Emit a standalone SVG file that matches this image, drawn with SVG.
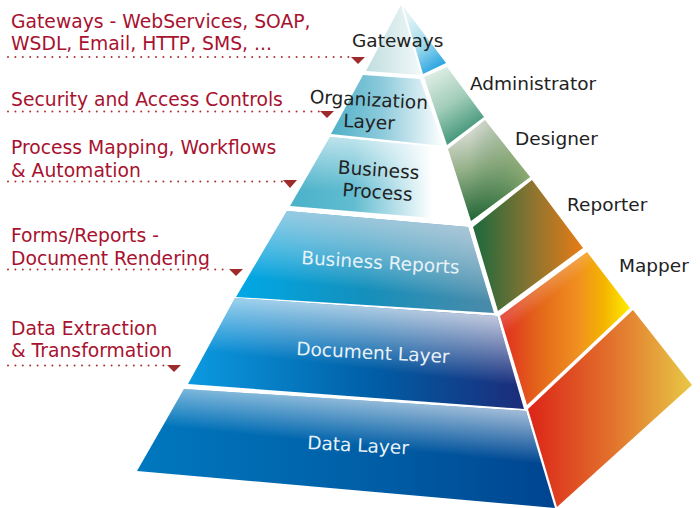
<svg xmlns="http://www.w3.org/2000/svg" width="700" height="508" viewBox="0 0 700 508">
<style>
text{font-family:"DejaVu Sans","Liberation Sans",sans-serif;font-size:18.500px}
.red{fill:#a8122f;font-size:18.750px}
.dark{fill:#222}
.lite{fill:#e8f2f8}
.dot{fill:none;stroke:#a33;stroke-width:2;stroke-linecap:round;stroke-dasharray:0 7.4}
.tip{fill:#9e2a2b}
</style>
<defs>
<linearGradient id="wg" gradientUnits="userSpaceOnUse" x1="366" y1="0" x2="421" y2="0"><stop offset="0" stop-color="#c0dee0"/><stop offset="1" stop-color="#f2f8f8"/></linearGradient>
<linearGradient id="og" gradientUnits="userSpaceOnUse" x1="331" y1="0" x2="444" y2="0"><stop offset="0" stop-color="#4fb0c8"/><stop offset=".45" stop-color="#8ccadb"/><stop offset="1" stop-color="#fff"/></linearGradient>
<linearGradient id="bg" gradientUnits="userSpaceOnUse" x1="290" y1="0" x2="432" y2="0"><stop offset="0" stop-color="#4ab2ca"/><stop offset=".45" stop-color="#62bcd0"/><stop offset="1" stop-color="#fff"/></linearGradient>
<linearGradient id="rg" gradientUnits="userSpaceOnUse" x1="236" y1="0" x2="494" y2="0"><stop offset="0" stop-color="#00a8e6"/><stop offset=".5" stop-color="#1490bc"/><stop offset="1" stop-color="#4c8aa8"/></linearGradient>
<linearGradient id="dg" gradientUnits="userSpaceOnUse" x1="188" y1="0" x2="524" y2="0"><stop offset="0" stop-color="#0c9ae0"/><stop offset=".55" stop-color="#005ea6"/><stop offset="1" stop-color="#1c2c7a"/></linearGradient>
<linearGradient id="ag" gradientUnits="userSpaceOnUse" x1="137" y1="0" x2="555" y2="0"><stop offset="0" stop-color="#0078bf"/><stop offset=".6" stop-color="#005ca4"/><stop offset="1" stop-color="#004490"/></linearGradient>
<linearGradient id="f1" gradientUnits="userSpaceOnUse" x1="0" y1="137" x2="0" y2="190"><stop offset="0" stop-color="#fff" stop-opacity=".6"/><stop offset="1" stop-color="#fff" stop-opacity="0"/></linearGradient>
<linearGradient id="f2" gradientUnits="userSpaceOnUse" x1="377" y1="212" x2="369" y2="290"><stop offset="0" stop-color="#c8d8e4" stop-opacity=".8"/><stop offset="1" stop-color="#fff" stop-opacity="0"/></linearGradient>
<linearGradient id="f3" gradientUnits="userSpaceOnUse" x1="366" y1="302" x2="356" y2="390"><stop offset="0" stop-color="#fff" stop-opacity=".72"/><stop offset=".75" stop-color="#fff" stop-opacity="0"/></linearGradient>
<linearGradient id="f4" gradientUnits="userSpaceOnUse" x1="355" y1="395" x2="350" y2="445"><stop offset="0" stop-color="#fff" stop-opacity=".62"/><stop offset="1" stop-color="#fff" stop-opacity="0"/></linearGradient>
<linearGradient id="s1" gradientUnits="userSpaceOnUse" x1="405" y1="18" x2="442" y2="68"><stop offset="0" stop-color="#e4f4f6"/><stop offset=".5" stop-color="#a4dcec"/><stop offset="1" stop-color="#20a0e0"/></linearGradient>
<linearGradient id="s2" gradientUnits="userSpaceOnUse" x1="430" y1="75" x2="468" y2="135"><stop offset="0" stop-color="#dcece4"/><stop offset=".5" stop-color="#a0ccb8"/><stop offset="1" stop-color="#3f9478"/></linearGradient>
<linearGradient id="s3" gradientUnits="userSpaceOnUse" x1="472" y1="127" x2="490" y2="215"><stop offset="0" stop-color="#dcdfd8"/><stop offset=".45" stop-color="#94b088"/><stop offset="1" stop-color="#256838"/></linearGradient>
<linearGradient id="s3b" gradientUnits="userSpaceOnUse" x1="470" y1="0" x2="530" y2="0"><stop offset="0" stop-color="#2a6a3c" stop-opacity="0"/><stop offset="1" stop-color="#a8bc78" stop-opacity="1"/></linearGradient>
<linearGradient id="s4" gradientUnits="userSpaceOnUse" x1="480" y1="0" x2="583" y2="0"><stop offset="0" stop-color="#276a3c"/><stop offset=".5" stop-color="#8a7430"/><stop offset="1" stop-color="#e87c14"/></linearGradient>
<linearGradient id="s5" gradientUnits="userSpaceOnUse" x1="500" y1="0" x2="630" y2="0"><stop offset="0" stop-color="#e02c20"/><stop offset=".3" stop-color="#e4661a"/><stop offset=".6" stop-color="#f09020"/><stop offset=".8" stop-color="#f4b400"/><stop offset="1" stop-color="#ffee00"/></linearGradient>
<linearGradient id="s6" gradientUnits="userSpaceOnUse" x1="528" y1="0" x2="692" y2="0"><stop offset="0" stop-color="#dc2418"/><stop offset=".5" stop-color="#e2702c"/><stop offset="1" stop-color="#e8c846"/></linearGradient>
<linearGradient id="g5" gradientUnits="userSpaceOnUse" x1="575" y1="262" x2="583" y2="272"><stop offset="0" stop-color="#fff" stop-opacity=".16"/><stop offset="1" stop-color="#fff" stop-opacity="0"/></linearGradient>
</defs>

<g id="connectors">
<path class="dot" d="M8 57H352"/><polygon class="tip" points="351,57 365,57 358,64"/>
<path class="dot" d="M8 111.500H320"/><polygon class="tip" points="320,111 334,111 327,118"/>
<path class="dot" d="M8 181.500H282"/><polygon class="tip" points="283,180 297,180 290,188"/>
<path class="dot" d="M8 269.500H228"/><polygon class="tip" points="229,269 243,269 236,276"/>
<path class="dot" d="M8 365.500H166"/><polygon class="tip" points="167,365 181,365 174,372"/>
</g>

<g id="face-top">
<polygon fill="url(#s1)" points="403,6 446,63 423,74"/>
</g>
<g id="gateways-layer">
<polygon fill="url(#wg)" points="401,5 421,75 366,71"/>
<text class="dark" x="352" y="47">Gateways</text>
</g>
<g id="organization-layer">
<polygon fill="url(#og)" points="363,75 420,79 444,146 331,134"/>
<text class="dark" transform="translate(309.500,103) rotate(3)">Organization</text>
<text class="dark" transform="translate(343,127) rotate(3)">Layer</text>
</g>
<g id="business-process">
<polygon fill="url(#bg)" points="330,137 447,148 468,221 290,206"/>
<polygon fill="url(#f1)" points="330,137 447,148 468,221 290,206"/>
<text class="dark" transform="translate(337.500,173.500) rotate(4)">Business</text>
<text class="dark" transform="translate(342,196) rotate(4)">Process</text>
</g>
<g id="business-reports">
<polygon fill="url(#rg)" points="287,211 468,227 494,313 236,297"/>
<polygon fill="url(#f2)" points="287,211 468,227 494,313 236,297"/>
<text class="lite" transform="translate(301,264) rotate(3.500)">Business Reports</text>
</g>
<g id="document-layer">
<polygon fill="url(#dg)" points="235,298 497,316 524,409 188,384"/>
<polygon fill="url(#f3)" points="235,298 497,316 524,409 188,384"/>
<text class="lite" transform="translate(296,355) rotate(3)">Document Layer</text>
</g>
<g id="data-layer">
<polygon fill="url(#ag)" points="184,389 526,411 555,508 137,471"/>
<polygon fill="url(#f4)" points="184,389 526,411 555,508 137,471"/>
<text class="lite" transform="translate(307,449) rotate(3)">Data Layer</text>
</g>

<g id="administrator">
<polygon fill="url(#s2)" points="424,77 447,67 484,117 447,145"/>
<text class="dark" x="470" y="90">Administrator</text>
</g>
<g id="designer">
<polygon fill="url(#s3)" points="448,149 485,120 530,177 471,221"/>
<polygon fill="url(#s3b)" points="448,149 485,120 530,177 471,221" opacity=".6"/>
<text class="dark" x="515" y="145">Designer</text>
</g>
<g id="reporter">
<polygon fill="url(#s4)" points="473,227 532,180 583,248 498,311"/>
<text class="dark" x="567" y="211">Reporter</text>
</g>
<g id="mapper">
<polygon fill="url(#s5)" points="500,316 587,252 630,308 527,405"/>
<polygon fill="url(#g5)" points="500,316 587,252 630,308 527,405"/>
<text class="dark" x="619" y="272">Mapper</text>
</g>
<g id="face-bottom">
<polygon fill="url(#s6)" points="528,409 633,310 692,385 557,507"/>
</g>

<g id="annotations">
<text class="red" x="11" y="28">Gateways - WebServices, SOAP,</text>
<text class="red" x="11" y="50">WSDL, Email, HTTP, SMS, ...</text>
<text class="red" x="11" y="106">Security and Access Controls</text>
<text class="red" x="11" y="154">Process Mapping, Workflows</text>
<text class="red" x="11" y="177">&amp; Automation</text>
<text class="red" x="11" y="242">Forms/Reports -</text>
<text class="red" x="11" y="265">Document Rendering</text>
<text class="red" x="11" y="335">Data Extraction</text>
<text class="red" x="11" y="357">&amp; Transformation</text>
</g>
</svg>
